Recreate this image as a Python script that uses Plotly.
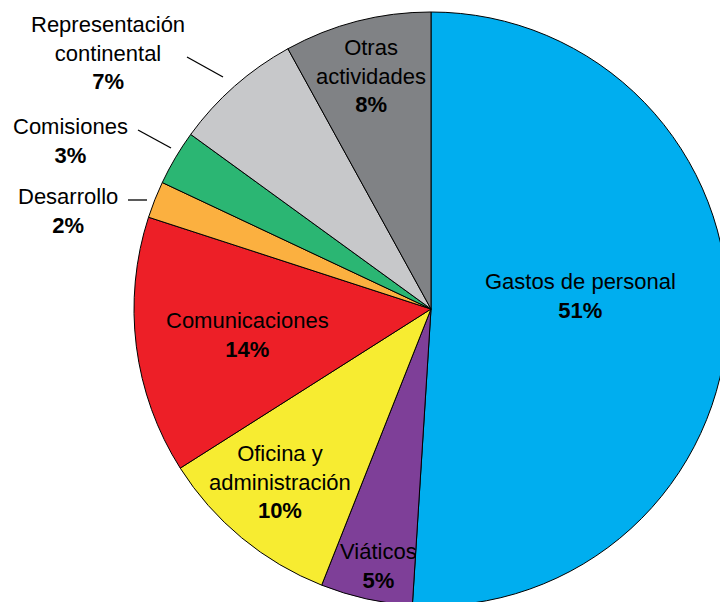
import plotly.graph_objects as go

# ---- data ----
categories = ["Gastos de personal", "Viáticos", "Oficina y administración", "Comunicaciones",
              "Desarrollo", "Comisiones", "Representación continental", "Otras actividades"]
values = [51, 5, 10, 14, 2, 3, 7, 8]
label_lines = ["Gastos de personal", "Viáticos", "Oficina y<br>administración", "Comunicaciones",
               "Desarrollo", "Comisiones", "Representación<br>continental", "Otras<br>actividades"]

# ---- style / layout ----
colors = ["#00AEEF", "#7E3F98", "#F7EC31", "#ED1F27", "#FBB040", "#2BB673", "#C7C8CA", "#808285"]
W, H = 730, 608
# pixel centres of label blocks
label_pos = [(580, 296), (378, 566), (280, 482), (247, 335), (68, 211), (70, 141), (108, 53), (371, 76)]
leader_lines = [((187, 57), (223, 77)), ((138, 130), (171, 148)), ((128, 200), (147, 200))]
cx, cy, r = 431, 309, 297

fig = go.Figure(go.Pie(
    labels=categories, values=values, sort=False, direction="clockwise", rotation=0,
    marker=dict(colors=colors, line=dict(color="#000000", width=1)),
    textinfo="none", hoverinfo="label+percent", showlegend=False,
    domain=dict(x=[(cx - r) / W, (cx + r) / W], y=[1 - (cy + r) / H, 1 - (cy - r) / H]),
))

FONT = "Liberation Sans, Arial, Helvetica, sans-serif"
tot = sum(values)
for lab, v, (px, py) in zip(label_lines, values, label_pos):
    fig.add_annotation(
        x=px / W, y=1 - py / H, xref="paper", yref="paper",
        text=f"{lab}<br><b>{round(100 * v / tot)}%</b>", showarrow=False,
        xanchor="center", yanchor="middle", align="center",
        font=dict(family=FONT, size=22, color="#000000"),
    )
for (x0, y0), (x1, y1) in leader_lines:
    fig.add_shape(type="line", xref="paper", yref="paper",
                  x0=x0 / W, y0=1 - y0 / H, x1=x1 / W, y1=1 - y1 / H,
                  line=dict(color="#000000", width=1.3))

fig.update_layout(width=W, height=H, margin=dict(l=0, r=0, t=0, b=0),
                  paper_bgcolor="white", plot_bgcolor="white")

fig.write_html("out.html", config={"displayModeBar": False}, post_script=(
    "document.documentElement.style.overflow='hidden';"
    "document.body.style.overflow='hidden';document.body.style.margin='0';"))
